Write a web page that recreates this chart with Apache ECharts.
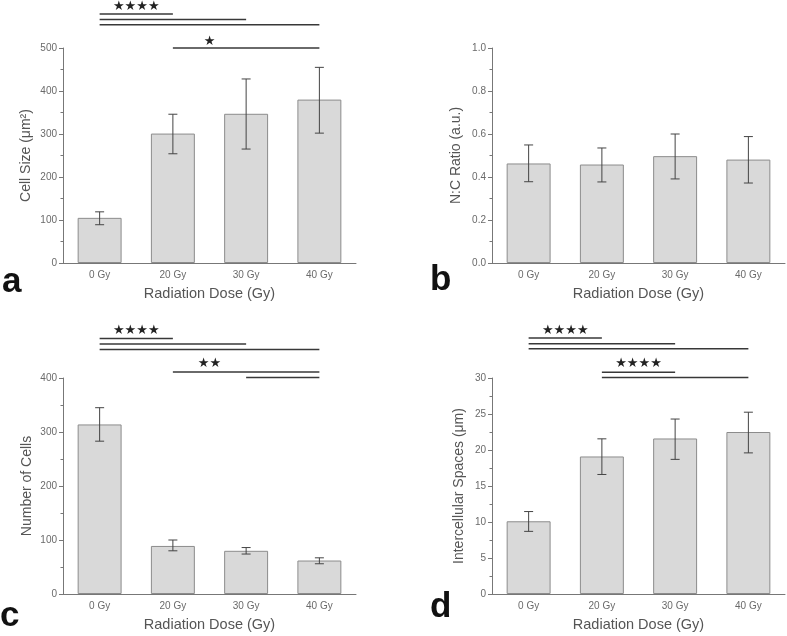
<!DOCTYPE html>
<html><head><meta charset="utf-8">
<script src="https://cdn.jsdelivr.net/npm/echarts@6/dist/echarts.min.js"></script>
<style>html,body{margin:0;padding:0;background:#fff}#c{width:787px;height:636px}</style>
</head><body><div id="c"></div>
<script>
// ---------- data ----------
const categories = ['0 Gy', '20 Gy', '30 Gy', '40 Gy'];

const cellSize     = [105, 301, 347, 380];
const cellSizeLow  = [89, 254, 265, 302];
const cellSizeHigh = [119, 346, 428, 455];

const ncRatio     = [0.463, 0.458, 0.497, 0.481];
const ncRatioLow  = [0.378, 0.377, 0.391, 0.372];
const ncRatioHigh = [0.549, 0.535, 0.600, 0.588];

const cellCount     = [314, 89, 80, 62];
const cellCountLow  = [283, 80, 74, 56];
const cellCountHigh = [345, 100, 86, 67];

const spaces     = [10.1, 19.1, 21.6, 22.5];
const spacesLow  = [8.7, 16.6, 18.7, 19.6];
const spacesHigh = [11.45, 21.55, 24.3, 25.25];

// significance brackets: [fromCategory, toCategory, value]
const sigLinesA = [[0, 1, 579], [0, 2, 566], [0, 3, 554], [1, 3, 500]];
const sigTextA  = [['★★★★', 0, 1, 597], ['★', 1, 2, 515]];
const sigLinesC = [[0, 1, 473], [0, 2, 463], [0, 3, 453], [1, 3, 411], [2, 3, 401]];
const sigTextC  = [['★★★★', 0, 1, 488], ['★★', 1, 2, 426]];
const sigLinesD = [[0, 1, 35.56], [0, 2, 34.77], [0, 3, 34.07], [1, 2, 30.8], [1, 3, 30.08]];
const sigTextD  = [['★★★★', 0, 1, 36.6], ['★★★★', 1, 2, 31.95]];

const yNames = ['Cell Size (μm²)', 'N:C Ratio (a.u.)', 'Number of Cells', 'Intercellular Spaces (μm)'];
const xName = 'Radiation Dose (Gy)';
const panelLabels = ['a', 'b', 'c', 'd'];

// ---------- chart ----------
const FONT = '"Liberation Sans", Arial, sans-serif';
const axisGray = '#777';
const grids = [
  {left: 63, top: 48, width: 293, height: 215},
  {left: 492, top: 48, width: 293, height: 215},
  {left: 63, top: 378, width: 293, height: 216},
  {left: 492, top: 378, width: 293, height: 216}
];
const yCfg = [
  {min: 0, max: 500, interval: 100, gap: 30, fmt: v => v},
  {min: 0, max: 1, interval: 0.2, gap: 29, fmt: v => v.toFixed(1)},
  {min: 0, max: 400, interval: 100, gap: 29, fmt: v => v},
  {min: 0, max: 30, interval: 5, gap: 26, fmt: v => v}
];

const xAxes = grids.map((g, i) => ({
  type: 'category', gridIndex: i, data: categories,
  name: xName, nameLocation: 'middle', nameGap: 23,
  nameTextStyle: {fontFamily: FONT, fontSize: 14.5, color: '#555'},
  axisLine: {lineStyle: {color: axisGray, width: 1}},
  axisTick: {alignWithLabel: true, length: 3, lineStyle: {color: axisGray}},
  axisLabel: {fontFamily: FONT, fontSize: 10, color: '#6a6a6a', margin: 7}
}));
const yAxes = yCfg.map((c, i) => ({
  type: 'value', gridIndex: i, min: c.min, max: c.max, interval: c.interval,
  name: yNames[i], nameLocation: 'middle', nameGap: c.gap,
  nameTextStyle: {fontFamily: FONT, fontSize: 14, color: '#555'},
  axisLine: {show: true, lineStyle: {color: axisGray, width: 1}},
  axisTick: {show: true, length: 4, lineStyle: {color: axisGray}},
  minorTick: {show: true, splitNumber: 2, length: 2.5, lineStyle: {color: axisGray}},
  splitLine: {show: false},
  axisLabel: {fontFamily: FONT, fontSize: 10, color: '#6a6a6a', margin: 6, formatter: c.fmt}
}));

function barSeries(i, vals) {
  return {
    type: 'bar', xAxisIndex: i, yAxisIndex: i, data: vals, barWidth: '60%',
    itemStyle: {color: '#d9d9d9', borderColor: '#8c8c8c', borderWidth: 1},
    silent: true, z: 2
  };
}
function errSeries(i, low, high) {
  return {
    type: 'custom', xAxisIndex: i, yAxisIndex: i, z: 5, silent: true,
    data: categories.map((c, k) => [k, low[k], high[k]]),
    encode: {x: 0, y: [1, 2]},
    renderItem(params, api) {
      const x = api.value(0);
      const lo = api.coord([x, api.value(1)]);
      const hi = api.coord([x, api.value(2)]);
      const w = 4.5;
      const st = {stroke: '#444', lineWidth: 1};
      return {type: 'group', children: [
        {type: 'line', shape: {x1: hi[0], y1: hi[1], x2: lo[0], y2: lo[1]}, style: st},
        {type: 'line', shape: {x1: hi[0] - w, y1: hi[1], x2: hi[0] + w, y2: hi[1]}, style: st},
        {type: 'line', shape: {x1: lo[0] - w, y1: lo[1], x2: lo[0] + w, y2: lo[1]}, style: st}
      ]};
    }
  };
}
function sigSeries(i, lines, texts) {
  return {
    type: 'custom', xAxisIndex: i, yAxisIndex: i, z: 6, silent: true, clip: false,
    data: [[0, 0]], encode: {x: 0, y: 1},
    renderItem(params, api) {
      const children = [];
      lines.forEach(([a, b, v]) => {
        const p1 = api.coord([a, v]), p2 = api.coord([b, v]);
        children.push({type: 'line', shape: {x1: p1[0], y1: p1[1], x2: p2[0], y2: p2[1]},
          style: {stroke: '#383838', lineWidth: 1.5}});
      });
      texts.forEach(([t, a, b, v]) => {
        const p1 = api.coord([a, v]), p2 = api.coord([b, v]);
        children.push({type: 'text', style: {text: t, x: (p1[0] + p2[0]) / 2, y: p1[1],
          align: 'center', verticalAlign: 'middle', font: '13px "DejaVu Sans"', fill: '#222'}});
      });
      return {type: 'group', children};
    }
  };
}

const labelPos = [[2, 282], [430, 280], [0, 616], [430, 607]];

const option = {
  backgroundColor: '#fff',
  animation: false,
  grid: grids,
  xAxis: xAxes,
  yAxis: yAxes,
  graphic: panelLabels.map((t, i) => ({
    type: 'text', left: labelPos[i][0], top: labelPos[i][1] - 17,
    style: {text: t, font: 'bold 35px "Liberation Sans", Arial, sans-serif', fill: '#111'}
  })),
  series: [
    barSeries(0, cellSize), errSeries(0, cellSizeLow, cellSizeHigh), sigSeries(0, sigLinesA, sigTextA),
    barSeries(1, ncRatio), errSeries(1, ncRatioLow, ncRatioHigh),
    barSeries(2, cellCount), errSeries(2, cellCountLow, cellCountHigh), sigSeries(2, sigLinesC, sigTextC),
    barSeries(3, spaces), errSeries(3, spacesLow, spacesHigh), sigSeries(3, sigLinesD, sigTextD)
  ]
};
const chart = echarts.init(document.getElementById('c'), null, {renderer: 'canvas'});
chart.setOption(option);
</script>
</body></html>
